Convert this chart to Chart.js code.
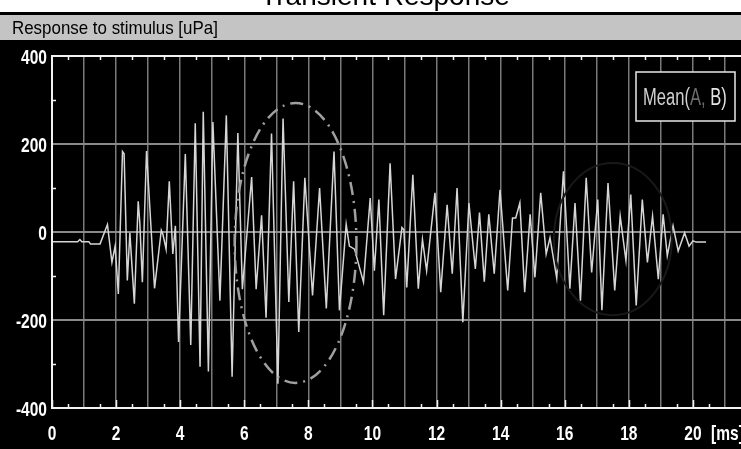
<!DOCTYPE html>
<html>
<head>
<meta charset="utf-8">
<script src="https://cdn.jsdelivr.net/npm/chart.js@4.4.1/dist/chart.umd.min.js"></script>
<style>
  html, body { margin: 0; padding: 0; background: #000; }
  #c { display: block; }
</style>
</head>
<body>
<canvas id="c" width="741" height="449"></canvas>
<script>
// Averaged response trace: time in ms, pressure in uPa
const timeMs = [
  0, 0.8, 0.87, 0.93, 1.15, 1.2, 1.5, 1.73, 1.87, 1.97,
  2.07, 2.2, 2.25, 2.35, 2.43, 2.57, 2.69, 2.74, 2.82, 2.95,
  3.2, 3.41, 3.46, 3.56, 3.66, 3.77, 3.85, 3.95, 4.16, 4.33,
  4.47, 4.62, 4.72, 4.88, 5.02, 5.24, 5.44, 5.62, 5.8, 5.94,
  6.23, 6.37, 6.54, 6.68, 6.85, 7.05, 7.21, 7.39, 7.54, 7.7,
  7.89, 8.13, 8.35, 8.56, 8.8, 8.97, 9.18, 9.28, 9.44, 9.72,
  9.93, 10.06, 10.2, 10.35, 10.55, 10.72, 10.92, 10.98, 11.07, 11.26,
  11.43, 11.56, 11.69, 11.95, 12.13, 12.33, 12.49, 12.64, 12.82, 13.01,
  13.21, 13.34, 13.49, 13.63, 13.8, 13.98, 14.22, 14.37, 14.47, 14.6,
  14.75, 14.92, 15.07, 15.25, 15.42, 15.54, 15.75, 15.96, 16.16, 16.32,
  16.49, 16.67, 16.84, 17.03, 17.16, 17.35, 17.56, 17.73, 17.91, 18.06,
  18.23, 18.42, 18.58, 18.74, 18.92, 19.07, 19.2, 19.38, 19.54, 19.74,
  19.88, 20.0, 20.1, 20.41
];
const pressure = [
  -22, -22, -17, -22, -22, -27, -27, 17, -69, -32,
  -141, 183, 178, -110, -2, -163, 70, 21, -114, 184,
  -128, 4, -5, -39, 115, -50, 14, -250, 177, -257,
  247, -306, 273, -317, 250, -156, 265, -329, 225, -130,
  125, -130, 38, -195, 224, -345, 258, -159, 115, -227,
  123, -144, 100, -174, 183, -178, 17, -32, -39, -114,
  77, -88, 74, -189, 156, -107, 10, 5, -126, 130,
  -129, -17, -88, 89, -137, 62, -95, 100, -205, 66,
  -84, 44, -113, 40, -95, 96, -133, 32, 32, 66,
  -137, 40, -103, 89, -50, -13, -105, 138, -129, 66,
  -156, 123, -92, 74, -178, 111, -133, 36, -65, 85,
  -167, 74, -69, 36, -107, 40, -54, 14, -43, -2,
  -32, -20, -23, -23
];
const xTickLabels = [0, 2, 4, 6, 8, 10, 12, 14, 16, 18, 20];
const yTickLabels = [-400, -200, 0, 200, 400];
const yMinorTicks = [-300, -100, 100, 300];
const legendParts = ['Mean(', 'A,', ' B)'];
const legendColors = ['#d0d0d0', '#6c6c6c', '#e4e4e4'];

const titleText = 'Transient Response';
const panelText = 'Response to stimulus [uPa]';
const unitText = '[ms]';

// Highlight ellipses in data units: centre (ms, uPa) and radii (ms, uPa)
const highlights = [
  { cx: 7.6, cy: -25, rx: 1.9, ry: 318, color: '#a0a0a0', width: 2.5, dash: [13, 6, 2, 6] },
  { cx: 17.5, cy: -16, rx: 1.84, ry: 173, color: '#181818', width: 2, dash: [] }
];

const FONT = '"Liberation Sans", Arimo, sans-serif';

// Draw horizontally condensed text (narrow display face)
function narrow(ctx, text, x, y, size, weight, sx, align, color) {
  ctx.save();
  ctx.font = `${weight} ${size}px ${FONT}`;
  ctx.fillStyle = color;
  ctx.textBaseline = 'alphabetic';
  ctx.textAlign = align;
  ctx.translate(x, y);
  ctx.scale(sx, 1);
  ctx.fillText(text, 0, 0);
  ctx.restore();
}

const framePlugin = {
  id: 'frame',
  beforeDraw(chart) {
    const ctx = chart.ctx;
    const W = chart.width;
    ctx.save();
    ctx.fillStyle = '#000';
    ctx.fillRect(0, 0, W, chart.height);
    // page heading strip (heading sits mostly above the page top)
    ctx.fillStyle = '#fff';
    ctx.fillRect(0, 0, W, 12);
    narrow(ctx, titleText, 385, 5, 28, 'normal', 1.0, 'center', '#000');
    ctx.fillStyle = '#000';
    ctx.fillRect(0, 12, W, 3);
    // panel caption bar
    ctx.fillStyle = '#c4c4c4';
    ctx.fillRect(0, 15, W, 25);
    narrow(ctx, panelText, 12, 34, 19, 'normal', 0.89, 'left', '#000');
    ctx.restore();
  },
  afterDatasetsDraw(chart) {
    const ctx = chart.ctx;
    const xs = chart.scales.x, ys = chart.scales.y;
    const a = chart.chartArea;
    ctx.save();
    ctx.beginPath();
    ctx.rect(a.left, a.top, a.right - a.left, a.bottom - a.top);
    ctx.clip();
    highlights.forEach(h => {
      const cx = xs.getPixelForValue(h.cx), cy = ys.getPixelForValue(h.cy);
      const rx = Math.abs(xs.getPixelForValue(h.cx + h.rx) - cx);
      const ry = Math.abs(ys.getPixelForValue(h.cy + h.ry) - cy);
      ctx.beginPath();
      ctx.ellipse(cx, cy, rx, ry, 0, 0, Math.PI * 2);
      ctx.strokeStyle = h.color;
      ctx.lineWidth = h.width;
      ctx.setLineDash(h.dash);
      ctx.stroke();
    });
    ctx.restore();
  },
  afterDraw(chart) {
    const ctx = chart.ctx;
    const { left, top, bottom } = chart.chartArea;
    const xs = chart.scales.x, ys = chart.scales.y;
    ctx.save();
    // axis frame
    ctx.strokeStyle = '#f2f2f2';
    ctx.lineWidth = 2;
    ctx.beginPath();
    ctx.moveTo(left, top); ctx.lineTo(chart.width, top);
    ctx.moveTo(left, bottom); ctx.lineTo(chart.width, bottom);
    ctx.moveTo(left, top - 1); ctx.lineTo(left, bottom + 1);
    ctx.stroke();
    // minor and major tick marks
    ctx.lineWidth = 1.5;
    ctx.beginPath();
    for (let v = 0.5; v < xs.max; v += 1) {
      const px = Math.round(xs.getPixelForValue(v)) + 0.5;
      ctx.moveTo(px, top); ctx.lineTo(px, top + 4);
      ctx.moveTo(px, bottom); ctx.lineTo(px, bottom - 4);
    }
    xTickLabels.forEach(v => {
      const px = Math.round(xs.getPixelForValue(v)) + 0.5;
      ctx.moveTo(px, bottom); ctx.lineTo(px, bottom - 8);
    });
    yMinorTicks.forEach(v => {
      const py = Math.round(ys.getPixelForValue(v)) + 0.5;
      ctx.moveTo(left, py); ctx.lineTo(left + 4, py);
    });
    ctx.stroke();
    // tick labels
    xTickLabels.forEach(v => {
      narrow(ctx, String(v), xs.getPixelForValue(v), bottom + 32, 21, 'bold', 0.74, 'center', '#fff');
    });
    yTickLabels.forEach(v => {
      narrow(ctx, String(v), left - 5, ys.getPixelForValue(v) + 8, 21, 'bold', 0.74, 'right', '#fff');
    });
    narrow(ctx, unitText, 711, bottom + 32, 21, 'bold', 0.74, 'left', '#fff');
    // legend box
    const bx = 636, by = 72, bw = 99, bh = 49;
    ctx.fillStyle = '#000';
    ctx.fillRect(bx, by, bw, bh);
    ctx.strokeStyle = '#e8e8e8';
    ctx.lineWidth = 1.5;
    ctx.strokeRect(bx, by, bw, bh);
    const sx = 0.72;
    let tx = 643;
    legendParts.forEach((t, i) => {
      narrow(ctx, t, tx, by + 33, 23, 'normal', sx, 'left', legendColors[i]);
      ctx.font = `normal 23px ${FONT}`;
      tx += ctx.measureText(t).width * sx;
    });
    ctx.restore();
  }
};

new Chart(document.getElementById('c'), {
  type: 'line',
  data: {
    datasets: [{
      data: timeMs.map((t, i) => ({ x: t, y: pressure[i] })),
      borderColor: '#d6d6d6',
      borderWidth: 1.5,
      pointRadius: 0,
      tension: 0,
      fill: false
    }]
  },
  options: {
    responsive: false,
    animation: false,
    events: [],
    layout: { padding: { top: 56, right: 0, left: 0, bottom: 0 } },
    plugins: { legend: { display: false }, tooltip: { enabled: false } },
    scales: {
      x: {
        type: 'linear',
        min: 0,
        max: 21.5,
        border: { display: false },
        afterFit(scale) { scale.height = 41; },
        grid: { color: '#7a7a7a', lineWidth: 1.5, drawTicks: false },
        ticks: { stepSize: 1, includeBounds: false, autoSkip: false, maxRotation: 0, display: false }
      },
      y: {
        min: -400,
        max: 400,
        border: { display: false },
        afterFit(scale) { scale.width = 52; },
        grid: {
          color: ctx => (Math.abs(ctx.tick.value) === 400 ? 'rgba(0,0,0,0)' : '#8a8a8a'),
          lineWidth: 2,
          drawTicks: false
        },
        ticks: { stepSize: 200, display: false }
      }
    }
  },
  plugins: [framePlugin]
});
</script>
</body>
</html>
